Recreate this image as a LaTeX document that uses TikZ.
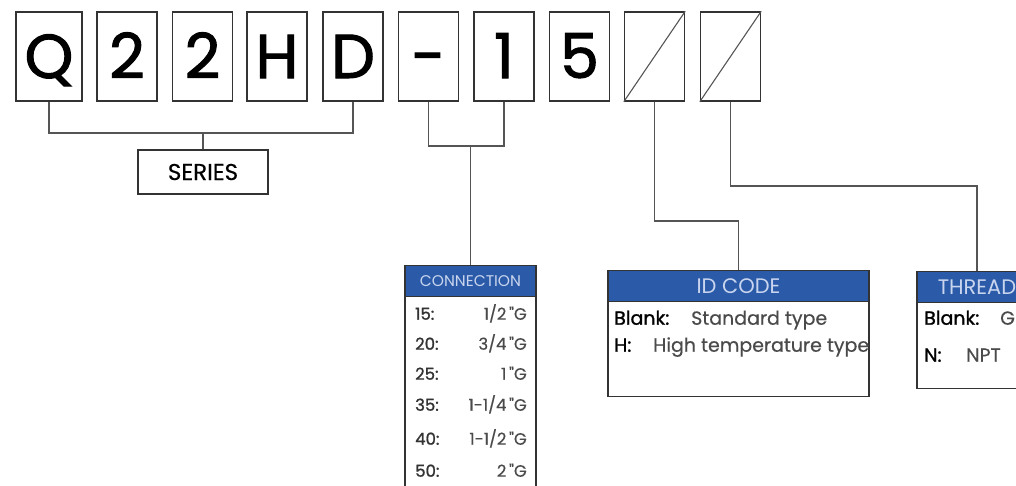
\documentclass[tikz,border=0pt]{standalone}
\usepackage{fontspec}
\setmainfont{Poppins}
\newfontfamily\bigf[FakeBold=1.6]{Poppins}
\newfontfamily\labf[FakeBold=1.2]{Poppins}
\newfontfamily\txtf[FakeBold=0.4]{Poppins}
\definecolor{boxc}{HTML}{333333}
\definecolor{linec}{HTML}{555555}
\definecolor{hdrblue}{HTML}{2B5BA8}
\definecolor{hdrtext}{HTML}{C9D5EE}
\definecolor{valc}{HTML}{4A4A4A}
\begin{document}
\begin{tikzpicture}[x=1pt,y=-1pt,
  charbox/.style={draw=boxc, line width=1.4pt, minimum width=60pt, minimum height=89pt, inner sep=0pt,
     font=\bigf\fontsize{62}{62}\selectfont, text height=43pt, text depth=0pt},
  link/.style={draw=linec, line width=1.2pt},
  panel/.style={draw=boxc, line width=1.4pt, fill=white, inner sep=0pt, anchor=north},
  hdr/.style={draw=boxc, line width=1.4pt, fill=hdrblue, text=hdrtext, inner sep=0pt, anchor=north, minimum height=31pt},
  lbl/.style={anchor=mid west, inner sep=0pt, text=black, font=\labf\fontsize{19}{19}\selectfont},
  desc/.style={anchor=mid west, inner sep=0pt, text=valc, font=\txtf\fontsize{19}{19}\selectfont},
  rowl/.style={anchor=mid west, inner sep=0pt, text=boxc, font=\labf\fontsize{16.5}{16.5}\selectfont},
  rowv/.style={anchor=mid east, inner sep=0pt, text=valc, font=\txtf\fontsize{16.5}{16.5}\selectfont}
]
\fill[white] (0,0) rectangle (1016,485);
\clip (0,0) rectangle (1016,485);

% code characters
\node[charbox, minimum width=66pt] (q) at (49,56.5) {Q};
\node[charbox] (c2a) at (127,56.5) {2};
\node[charbox] (c2b) at (202.5,56.5) {2};
\node[charbox] (h) at (277,56.5) {H};
\node[charbox] (d) at (353,56.5) {D};
\node[charbox] (dash) at (428.5,56.5) {-};
\node[charbox] (one) at (504,56.5) {1};
\node[charbox] (five) at (579.5,56.5) {5};
\node[charbox] (s1) at (654.5,56.5) {};
\node[charbox] (s2) at (730.5,56.5) {};
\draw[draw=linec, line width=1.1pt] (s1.south west) -- (s1.north east);
\draw[draw=linec, line width=1.1pt] (s2.south west) -- (s2.north east);

% SERIES
\node[draw=boxc, line width=1.4pt, minimum width=130pt, minimum height=44pt, inner sep=0pt,
      font=\txtf\fontsize{23}{23}\selectfont] (series) at (203,172) {SERIES};
\coordinate (sj) at (203,133);
\draw[link] (q.south) |- (sj) -| (d.south);
\draw[link] (sj) -- (series.north);

% CONNECTION
\node[panel, minimum width=131pt, minimum height=260pt] (conn) at (470.5,265) {};
\node[hdr, minimum width=131pt, font=\fontsize{15.5}{15.5}\selectfont] (connh) at (conn.north) {CONNECTION};
\coordinate (cj) at (470.5,146);
\draw[link] (dash.south) |- (cj) -| (one.south);
\draw[link] (cj) -- (conn.north);
\node[rowl] (r15) at (415,317) {15:};  \node[rowv] (v15) at (527,317) {1/2\,"G};
\node[rowl] (r20) at (415,347) {20:};  \node[rowv] (v20) at (527,347) {3/4\,"G};
\node[rowl] (r25) at (415,377) {25:};  \node[rowv] (v25) at (527,377) {1\,"G};
\node[rowl] (r35) at (415,408) {35:};  \node[rowv] (v35) at (527,408) {1-1/4\,"G};
\node[rowl] (r40) at (415,442) {40:};  \node[rowv] (v40) at (527,442) {1-1/2\,"G};
\node[rowl] (r50) at (415,474) {50:};  \node[rowv] (v50) at (527,474) {2\,"G};

% ID CODE
\node[panel, minimum width=261pt, minimum height=126pt] (id) at (738.5,270) {};
\node[hdr, minimum width=261pt, font=\fontsize{21}{21}\selectfont] (idh) at (id.north) {ID CODE};
\coordinate (ij) at (738.5,221);
\draw[link] (s1.south) |- (ij) -- (id.north);
\node[lbl] (idb) at (614,322) {Blank:};
\node[desc] (idbv) at (691,322) {Standard type};
\node[lbl] (idhl) at (614,349) {H:};
\node[desc] (idhv) at (653,349) {High temperature type};

% THREAD
\node[panel, minimum width=120pt, minimum height=117pt] (thr) at (977,271) {};
\node[hdr, minimum width=120pt, font=\fontsize{21}{21}\selectfont] (thrh) at (thr.north) {THREAD};
\coordinate (tj) at (977,186);
\draw[link] (s2.south) |- (tj) -- (thr.north);
\node[lbl] (thb) at (924,322) {Blank:};
\node[desc] (thbv) at (1000,322) {G};
\node[lbl] (thn) at (924,359) {N:};
\node[desc] (thnv) at (966,359) {NPT};
\end{tikzpicture}
\end{document}
